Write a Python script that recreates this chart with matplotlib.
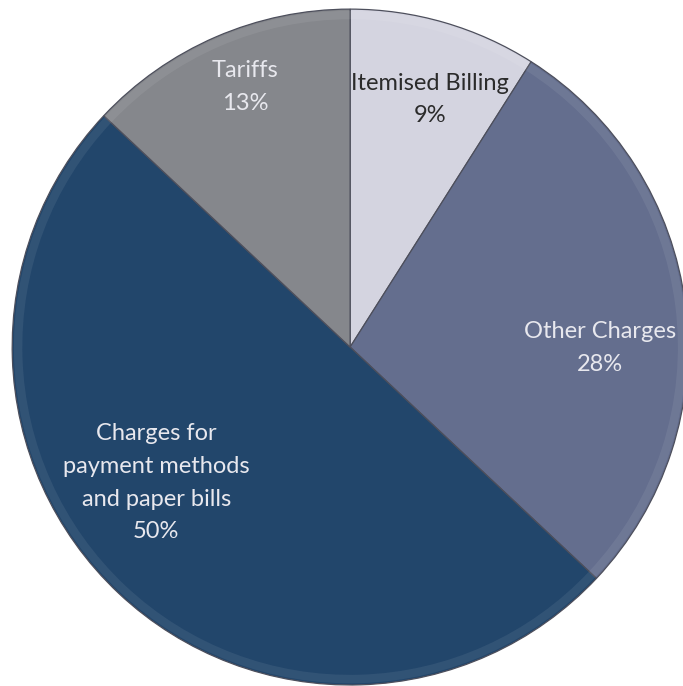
import numpy as np
import matplotlib.pyplot as plt
from matplotlib.patches import Wedge

categories = ["Itemised Billing", "Other Charges",
              "Charges for\npayment methods\nand paper bills", "Tariffs"]
shares = [9, 28, 50, 13]
colors = ["#d4d4e0", "#646e8e", "#22466b", "#85878c"]
text_colors = ["#2b2b2b", "#e8e8ee", "#e8e8ee", "#e8e8ee"]

# label placement as (fraction of radius, angle in degrees)
label_pos = [(0.77, 72.1), (0.74, -0.2), (0.70, 215.0), (0.83, 112.0)]

plt.rcParams['font.family'] = ['Lato', 'DejaVu Sans']

fig = plt.figure(figsize=(6.83, 6.86), dpi=100)
ax = fig.add_axes([0, 0, 1, 1])

wedges, _ = ax.pie(shares, colors=colors, startangle=90, counterclock=False,
                   radius=1.0, center=(0, 0),
                   wedgeprops=dict(edgecolor="#4d4f5c", linewidth=0.9))

# soft bevel along the rim
for w in wedges:
    rim = Wedge((0, 0), 0.995, w.theta1, w.theta2, width=0.025,
                facecolor="white", alpha=0.07, edgecolor="none")
    ax.add_patch(rim)

for name, pct, (r, ang), tc in zip(categories, shares, label_pos, text_colors):
    x = r * np.cos(np.radians(ang))
    y = r * np.sin(np.radians(ang))
    ax.text(x, y, f"{name}\n{pct}%", ha="center", va="center", fontsize=17,
            color=tc, linespacing=1.68)

ax.set_xlim(-1.036, 0.985)
ax.set_ylim(-1.003, 1.027)
ax.set_aspect("equal")
ax.axis("off")

fig.savefig("out.png", dpi=100)
